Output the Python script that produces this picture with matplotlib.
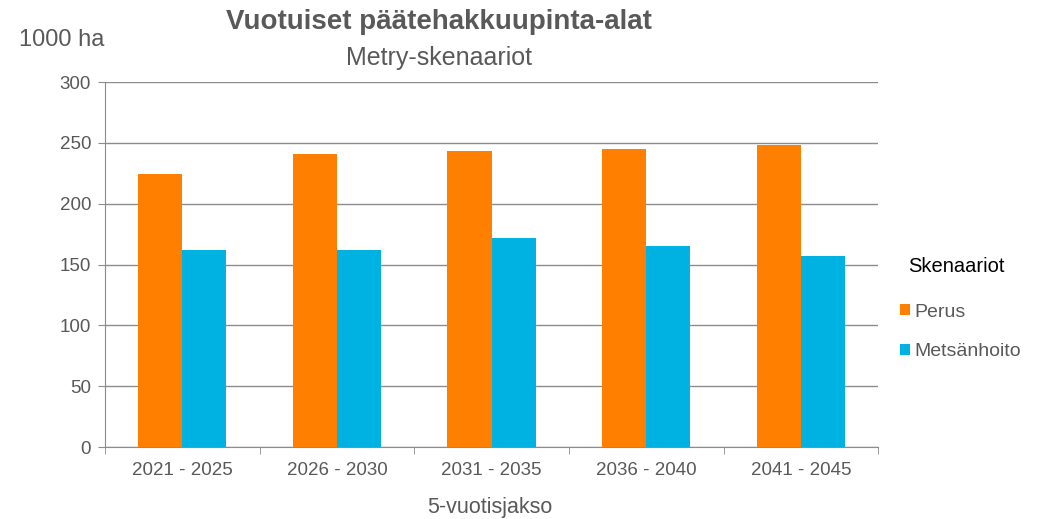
import matplotlib.pyplot as plt
import numpy as np

plt.rcParams["font.family"] = ["Liberation Sans", "DejaVu Sans"]

periods = ["2021 - 2025", "2026 - 2030", "2031 - 2035", "2036 - 2040", "2041 - 2045"]
perus = [224, 241, 243, 245, 248]
metsanhoito = [162, 162, 172, 165, 157]
series_names = ["Perus", "Metsänhoito"]
colors = ["#FF8000", "#00B2E2"]

grey = "#595959"
grid_grey = "#8C8C8C"

fig = plt.figure(figsize=(10.58, 5.19), dpi=100)
ax = fig.add_axes([0.0992, 0.1387, 0.7308, 0.7033])

x = np.arange(len(periods))
w = 0.285
b1 = ax.bar(x - w / 2, perus, width=w, color=colors[0], label=series_names[0], zorder=3)
b2 = ax.bar(x + w / 2, metsanhoito, width=w, color=colors[1], label=series_names[1], zorder=3)

ax.set_xlim(-0.5, len(periods) - 0.5)
ax.set_ylim(0, 300)
ax.set_yticks(np.arange(0, 301, 50))
ax.yaxis.grid(True, color=grid_grey, linewidth=1.0, zorder=0)
ax.set_axisbelow(True)

ax.set_xticks(x)
ax.set_xticklabels(periods)
ax.set_xticks(np.arange(-0.5, len(periods)), minor=True)
ax.tick_params(axis="x", which="major", length=0, pad=11, labelsize=13.5, labelcolor=grey)
ax.tick_params(axis="x", which="minor", length=5, color=grid_grey)
ax.tick_params(axis="y", length=5, color=grid_grey, pad=5, labelsize=13.5, labelcolor=grey)

for side in ["top", "right"]:
    ax.spines[side].set_visible(False)
for side in ["left", "bottom"]:
    ax.spines[side].set_color(grid_grey)

fig.text(0.463, 0.023, "5-vuotisjakso", ha="center", va="center", fontsize=15.5, color=grey)

fig.text(0.415, 0.958, "Vuotuiset päätehakkuupinta-alat", ha="center", va="center",
         fontsize=20, fontweight="bold", color=grey)
fig.text(0.415, 0.888, "Metry-skenaariot", ha="center", va="center", fontsize=18, color=grey)
fig.text(0.018, 0.923, "1000 ha", ha="left", va="center", fontsize=17, color=grey)

# legend title placed separately so the gap to the entries matches the original
fig.text(0.858, 0.487, "Skenaariot", ha="left", va="center", fontsize=14.5, color="black")
leg = fig.legend(handles=[b1, b2], loc="upper left", bbox_to_anchor=(0.851, 0.415),
                 frameon=False, fontsize=14,
                 handlelength=0.5, handleheight=0.5, handletextpad=0.2, labelspacing=1.15,
                 borderpad=0, borderaxespad=0)
for t in leg.get_texts():
    t.set_color(grey)

fig.savefig("out.png", dpi=100)
